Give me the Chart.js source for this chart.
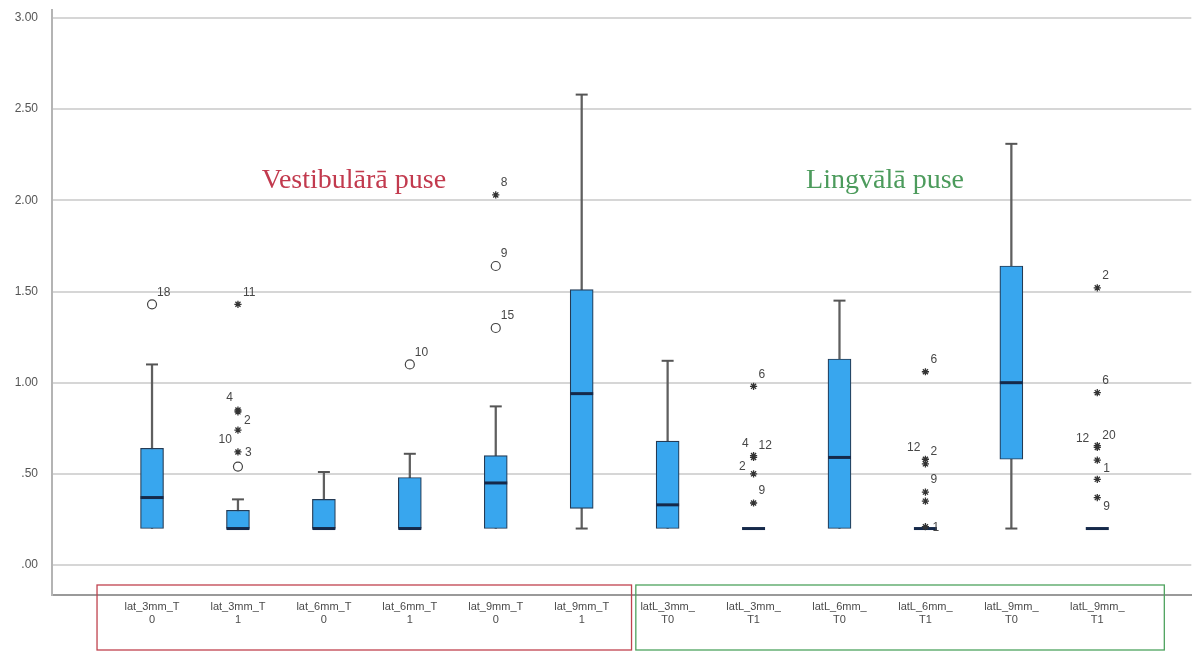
<!DOCTYPE html>
<html>
<head>
<meta charset="utf-8">
<script src="https://cdn.jsdelivr.net/npm/chart.js@4/dist/chart.umd.min.js"></script>
<style>
    body { margin: 0; background: #ffffff; }
    #wrap { width: 1197px; height: 652px; }
</style>
</head>
<body>
<div id="wrap"><canvas id="boxChart"></canvas></div>
<script>
// Kategorijas un ass teksti
const categories = ["lat_3mm_T0", "lat_3mm_T1", "lat_6mm_T0", "lat_6mm_T1", "lat_9mm_T0", "lat_9mm_T1",
    "latL_3mm_T0", "latL_3mm_T1", "latL_6mm_T0", "latL_6mm_T1", "latL_9mm_T0", "latL_9mm_T1"];
const tickLines = [
    ["lat_3mm_T", "0"], ["lat_3mm_T", "1"], ["lat_6mm_T", "0"], ["lat_6mm_T", "1"], ["lat_9mm_T", "0"], ["lat_9mm_T", "1"],
    ["latL_3mm_", "T0"], ["latL_3mm_", "T1"], ["latL_6mm_", "T0"], ["latL_6mm_", "T1"], ["latL_9mm_", "T0"], ["latL_9mm_", "T1"]
];
const yTickValues = [0, 0.5, 1, 1.5, 2, 2.5, 3];
const yTickLabels = [".00", ".50", "1.00", "1.50", "2.00", "2.50", "3.00"];

// Kastes (kvartiles, mediāna, ūsas)
const q1 = [0.20, 0.20, 0.20, 0.20, 0.20, 0.31, 0.20, 0.20, 0.20, 0.20, 0.58, 0.20];
const median = [0.37, 0.20, 0.20, 0.20, 0.45, 0.94, 0.33, 0.20, 0.59, 0.20, 1.00, 0.20];
const q3 = [0.64, 0.30, 0.36, 0.48, 0.60, 1.51, 0.68, 0.20, 1.13, 0.20, 1.64, 0.20];
const whiskerLow = [0.20, 0.20, 0.20, 0.20, 0.20, 0.20, 0.20, 0.20, 0.20, 0.20, 0.20, 0.20];
const whiskerHigh = [1.10, 0.36, 0.51, 0.61, 0.87, 2.58, 1.12, 0.20, 1.45, 0.20, 2.31, 0.20];

// Izlecēji: kategorija, vērtība, tips (o = aplis, * = zvaigzne), gadījuma nr.
const outCat = [0, 1, 1, 1, 1, 1, 1, 3, 4, 4, 4, 7, 7, 7, 7, 7, 9, 9, 9, 9, 9, 9, 11, 11, 11, 11, 11, 11, 11];
const outVal = [1.43, 1.43, 0.85, 0.84, 0.74, 0.62, 0.54, 1.10, 2.03, 1.64, 1.30, 0.98, 0.60, 0.59, 0.50, 0.34,
    1.06, 0.58, 0.555, 0.40, 0.35, 0.21, 1.52, 0.945, 0.655, 0.645, 0.575, 0.47, 0.37];
const outMark = ["o", "*", "*", "*", "*", "*", "o", "o", "*", "o", "o", "*", "*", "*", "*", "*",
    "*", "*", "*", "*", "*", "*", "*", "*", "*", "*", "*", "*", "*"];
const outId = ["18", "11", "4", "2", "10", "3", "", "10", "8", "9", "15", "6", "4", "12", "2", "9",
    "6", "12", "2", "9", "", "1", "2", "6", "12", "20", "1", "", "9"];
// etiķetes novietojums pret punktu
const labelSide = ["ur", "ur", "ul", "dr", "dl", "r", "", "ur", "ur", "ur", "ur", "ur", "ul", "ur", "l", "ur",
    "ur", "ul", "ur", "ur", "", "r", "ur", "ur", "l", "ur", "dr", "", "dr"];

const groupTitles = ["Vestibulārā puse", "Lingvālā puse"];

const BOX_W = 23;

function pointsOf(mark) {
    const pts = [];
    outVal.forEach((v, i) => {
        if (outMark[i] === mark) pts.push({ x: outCat[i], y: v });
    });
    return pts;
}

function line(ctx, x1, y1, x2, y2) {
    ctx.beginPath();
    ctx.moveTo(x1, y1);
    ctx.lineTo(x2, y2);
    ctx.stroke();
}

// Mediānas, ūsu galiņi, etiķetes un grupu rāmji
const boxExtras = {
    id: "boxExtras",
    afterDatasetDraw(chart, args) {
        if (args.index !== 1) return;
        const { ctx, scales: { x, y } } = chart;
        ctx.save();
        categories.forEach((c, i) => {
            const px = x.getPixelForValue(i);
            ctx.strokeStyle = "#555555";
            ctx.lineWidth = 2;
            if (whiskerHigh[i] > q3[i]) line(ctx, px - 6, y.getPixelForValue(whiskerHigh[i]), px + 6, y.getPixelForValue(whiskerHigh[i]));
            if (whiskerLow[i] < q1[i]) line(ctx, px - 6, y.getPixelForValue(whiskerLow[i]), px + 6, y.getPixelForValue(whiskerLow[i]));
            ctx.strokeStyle = "#15294a";
            ctx.lineWidth = 3;
            const my = y.getPixelForValue(median[i]);
            line(ctx, px - BOX_W / 2, my, px + BOX_W / 2, my);
        });
        ctx.restore();
    },
    afterDraw(chart) {
        const { ctx, scales: { x, y }, chartArea } = chart;
        ctx.save();

        // gadījumu numuri
        ctx.font = "12px 'Liberation Sans', Arial, sans-serif";
        ctx.fillStyle = "#474747";
        ctx.textBaseline = "middle";
        outVal.forEach((v, i) => {
            if (!outId[i]) return;
            const px = x.getPixelForValue(outCat[i]);
            const py = y.getPixelForValue(v);
            const side = labelSide[i];
            let dx = 5, dy = -12;
            ctx.textAlign = "left";
            if (side === "r") { dx = 7; dy = 1; }
            if (side === "dr") { dx = 6; dy = 9; }
            if (side === "ul") { dx = -5; dy = -12; ctx.textAlign = "right"; }
            if (side === "l") { dx = -8; dy = -7; ctx.textAlign = "right"; }
            if (side === "dl") { dx = -6; dy = 10; ctx.textAlign = "right"; }
            ctx.fillText(outId[i], px + dx, py + dy);
        });

        // grupu nosaukumi
        ctx.font = "28px 'Liberation Serif', 'Times New Roman', serif";
        ctx.textAlign = "center";
        ctx.textBaseline = "alphabetic";
        ctx.fillStyle = "#c23a4e";
        ctx.fillText(groupTitles[0], x.getPixelForValue(2.35), y.getPixelForValue(2.066));
        ctx.fillStyle = "#4c9b5c";
        ctx.fillText(groupTitles[1], x.getPixelForValue(8.53), y.getPixelForValue(2.066));

        // rāmji ap ass nosaukumiem
        const top = chartArea.bottom - 10;
        const bottom = chart.height - 2;
        ctx.lineWidth = 1.3;
        ctx.strokeStyle = "#c0434f";
        const r1 = x.getPixelForValue(-0.64), r2 = x.getPixelForValue(5.58);
        ctx.strokeRect(r1, top, r2 - r1, bottom - top);
        ctx.strokeStyle = "#4ea35e";
        const g1 = x.getPixelForValue(5.63), g2 = x.getPixelForValue(11.78);
        ctx.strokeRect(g1, top, g2 - g1, bottom - top);
        ctx.restore();
    }
};

const ctx = document.getElementById("boxChart").getContext("2d");

const boxChart = new Chart(ctx, {
    type: "bar",
    data: {
        datasets: [
            {
                // ūsas
                type: "bar",
                data: categories.map((c, i) => ({ x: i, y: [whiskerLow[i], whiskerHigh[i]] })),
                backgroundColor: "#5f5f5f",
                barThickness: 1.6,
                grouped: false,
                order: 2,
            },
            {
                // kastes
                type: "bar",
                data: categories.map((c, i) => ({ x: i, y: [q1[i], q3[i]] })),
                backgroundColor: "#38a6ee",
                borderColor: "#243b55",
                borderWidth: 1.2,
                borderSkipped: false,
                barThickness: BOX_W,
                grouped: false,
                order: 1,
            },
            {
                type: "scatter",
                data: pointsOf("o"),
                pointStyle: "circle",
                pointRadius: 4.5,
                backgroundColor: "#ffffff",
                borderColor: "#444444",
                borderWidth: 1.2,
                order: 0,
            },
            {
                type: "scatter",
                data: pointsOf("*"),
                pointStyle: "star",
                pointRadius: 3.6,
                borderColor: "#333333",
                borderWidth: 1.3,
                order: 0,
            },
        ],
    },
    options: {
        responsive: true,
        maintainAspectRatio: false,
        animation: false,
        layout: { padding: { top: 10, right: 0, left: 0, bottom: 0 } },
        plugins: {
            legend: { display: false },
            tooltip: { enabled: false },
        },
        scales: {
            x: {
                type: "linear",
                offset: false,
                min: -1.164,
                max: 12.094,
                afterBuildTicks: (scale) => {
                    scale.ticks = categories.map((c, i) => ({ value: i }));
                },
                afterFit: (scale) => {
                    scale.height = 57;
                    scale.paddingLeft = 0;
                    scale.paddingRight = 0;
                },
                grid: { display: false, drawTicks: false, offset: false },
                border: { display: true, color: "#9a9a9a", width: 2 },
                ticks: {
                    autoSkip: false,
                    maxRotation: 0,
                    padding: 6,
                    color: "#4a4a4a",
                    font: { family: "'Liberation Sans', Arial, sans-serif", size: 11, lineHeight: 1.15 },
                    callback: (v, idx) => tickLines[idx],
                },
            },
            y: {
                min: -0.1645,
                max: 3.044,
                afterBuildTicks: (scale) => {
                    scale.ticks = yTickValues.map((v) => ({ value: v }));
                },
                afterFit: (scale) => {
                    scale.width = 52;
                    scale.paddingTop = 0;
                    scale.paddingBottom = 0;
                },
                grid: { color: "#d6d6d6", lineWidth: 2, drawTicks: false },
                border: { display: true, color: "#b4b4b4", width: 2 },
                ticks: {
                    padding: 14,
                    color: "#555555",
                    font: { family: "'Liberation Sans', Arial, sans-serif", size: 12 },
                    callback: (v, idx) => yTickLabels[idx],
                },
            },
        },
    },
    plugins: [boxExtras],
});
</script>
</body>
</html>
